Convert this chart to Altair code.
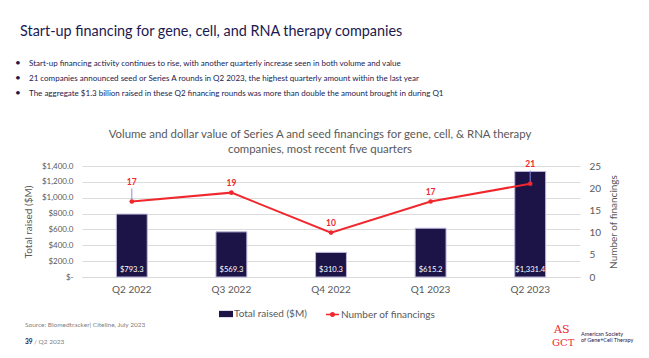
import altair as alt
import pandas as pd

# ---- data ----
quarters = ["Q2 2022", "Q3 2022", "Q4 2022", "Q1 2023", "Q2 2023"]
total_raised = [793.3, 569.3, 310.3, 615.2, 1331.4]
num_financings = [17, 19, 10, 17, 21]
leader_quarters = ["Q2 2022", "Q2 2023"]

slide_title = "Start-up financing for gene, cell, and RNA therapy companies"
bullets = [
    "Start-up financing activity continues to rise, with another quarterly increase seen in both volume and value",
    "21 companies announced seed or Series A rounds in Q2 2023, the highest quarterly amount within the last year",
    "The aggregate $1.3 billion raised in these Q2 financing rounds was more than double the amount brought in during Q1",
]
chart_title = [
    "Volume and dollar value of Series A and seed financings for gene, cell, & RNA therapy",
    "companies, most recent five quarters",
]
source_text = "Source: Biomedtracker| Citeline, July 2023"

df = pd.DataFrame({
    "Quarter": quarters,
    "Total": total_raised,
    "Count": num_financings,
    "BarLabel": ["$" + format(v, ",.1f") for v in total_raised],
    "S1": "Total raised ($M)",
    "S2": "Number of financings",
})

FONT = "Lato"
NAVY = "#1c1446"
RED = "#f0282d"
GRAY = "#595959"
W, H = 498, 111

xaxis = alt.Axis(labelColor=GRAY, labelFontSize=10, labelFont=FONT, title=None,
                 domainColor="#d9d9d9", ticks=False, labelPadding=7, labelAngle=0)
xscale = alt.Scale(paddingInner=0.69, paddingOuter=0.345)
xenc = alt.X("Quarter:N", sort=quarters, title=None, scale=xscale, axis=xaxis)

lscale = alt.Scale(domain=[0, 1400])
laxis = alt.Axis(title="Total raised ($M)", values=list(range(0, 1401, 200)),
                 labelExpr="datum.value == 0 ? '$-' : '$' + format(datum.value, ',.1f')",
                 labelColor=GRAY, labelFontSize=8, labelFont=FONT,
                 labelOverlap=False, labelBound=False,
                 ticks=False, domain=False, labelPadding=9, grid=True,
                 gridColor="#dcdcdc", gridWidth=1.2, titleColor=GRAY, titleFont=FONT,
                 titleFontSize=10, titleFontWeight="normal", titlePadding=8)

rscale = alt.Scale(domain=[0, 25])
raxis = alt.Axis(title="Number of financings", orient="right",
                 values=list(range(0, 26, 5)), labelColor=GRAY,
                 labelOverlap=False, labelBound=False,
                 labelFontSize=10, labelFont=FONT, ticks=False, domain=False,
                 grid=False, labelPadding=9, titleColor=GRAY, titleFont=FONT,
                 titleFontSize=10, titleFontWeight="normal", titlePadding=18,
                 titleAngle=270, titleBaseline="bottom")
yright = alt.Y("Count:Q", title="Number of financings", scale=rscale, axis=raxis)

base = alt.Chart(df)

bars = base.mark_bar(stroke="#bdb6dc", strokeWidth=1).encode(
    x=xenc,
    y=alt.Y("Total:Q", title="Total raised ($M)", scale=lscale, axis=laxis),
    color=alt.Color("S1:N", scale=alt.Scale(domain=["Total raised ($M)"], range=[NAVY]),
                    legend=alt.Legend(title=None, orient="none", legendX=137, legendY=141,
                                      symbolType="M-1,-0.45H1V0.45H-1Z", symbolSize=196,
                                      symbolStrokeWidth=0, labelFont=FONT, labelFontSize=10,
                                      labelColor=GRAY, labelOffset=1, padding=0)),
)

bar_labels = base.mark_text(color="white", font=FONT, fontSize=7.6, baseline="bottom", dy=-3).encode(
    x=xenc,
    y=alt.YDatum(0, title="Total raised ($M)", scale=lscale, axis=laxis),
    text="BarLabel:N",
)

left = alt.layer(bars, bar_labels)

line = base.mark_line(strokeWidth=2).encode(
    x=xenc,
    y=yright,
    stroke=alt.Stroke("S2:N", scale=alt.Scale(domain=["Number of financings"], range=[RED]),
                      legend=alt.Legend(title=None, orient="none", legendX=243, legendY=141,
                                        symbolType="M-1,0H1M-0.28,0A0.28,0.28,0,1,1,0.28,0A0.28,0.28,0,1,1,-0.28,0Z",
                                        symbolSize=170, symbolStrokeWidth=1.5,
                                        symbolFillColor=RED, labelFont=FONT, labelFontSize=10,
                                        labelColor=GRAY, labelOffset=1, padding=0)),
)
pts = base.mark_point(filled=True, size=22, color=RED, opacity=1).encode(x=xenc, y=yright)

leaders = base.transform_filter(
    alt.FieldOneOfPredicate(field="Quarter", oneOf=leader_quarters)
).mark_rule(color="#8c86e6", strokeWidth=1, y2Offset=-13).encode(
    x=xenc, y=yright, y2=alt.Y2("Count"))

lab_normal = base.transform_filter(
    ~alt.FieldOneOfPredicate(field="Quarter", oneOf=leader_quarters)
).mark_text(color=RED, font=FONT, fontSize=8.5, fontWeight="bold", baseline="bottom", dy=-5).encode(
    x=xenc, y=yright, text="Count:Q")
lab_leader = base.transform_filter(
    alt.FieldOneOfPredicate(field="Quarter", oneOf=leader_quarters)
).mark_text(color=RED, font=FONT, fontSize=8.5, fontWeight="bold", baseline="bottom", dy=-15).encode(
    x=xenc, y=yright, text="Count:Q")

right = alt.layer(line, leaders, pts, lab_normal, lab_leader)


def note(text, x, y, size, color, weight="normal", align="left", font=FONT):
    return alt.Chart(pd.DataFrame({"t": [text]})).mark_text(
        align=align, baseline="alphabetic", font=font, fontSize=size, color=color,
        fontWeight=weight).encode(text="t:N", x=alt.value(x), y=alt.value(y))


OX, OY = 82, 166  # plot origin on the page
notes = [note(slide_title, 20 - OX, 36 - OY, 14.4, "#1b1a4f")]
for i, b in enumerate(bullets):
    yy = 66 + 15 * i - OY
    notes.append(note("•", 15 - OX, yy, 10, "#1b1a4f"))
    notes.append(note(b, 29 - OX, yy, 8.0, "#1b1a4f"))
for i, t in enumerate(chart_title):
    notes.append(note(t, 320 - OX, 138 + 15 * i - OY, 11.4, GRAY, align="center"))
notes.append(note(source_text, 25 - OX, 327 - OY, 6.5, "#7f7f7f"))
notes.append(note("39", 25 - OX, 344 - OY, 6.5, "#1b1a4f", weight="bold"))
notes.append(note("/ Q2 2023", 34 - OX, 344 - OY, 6.5, "#7f7f7f"))
notes.append(note("AS", 554 - OX, 333 - OY, 11, RED, font="DejaVu Serif"))
notes.append(note("GCT", 552 - OX, 346 - OY, 10, RED, font="DejaVu Serif"))
notes.append(note("American Society", 581 - OX, 336 - OY, 5.5, "#1b1a4f"))
notes.append(note("of Gene+Cell Therapy", 581 - OX, 342 - OY, 5.5, "#1b1a4f"))

chart = alt.layer(left, right, *notes).resolve_scale(y="independent").properties(
    width=W, height=H,
    padding={"left": OX - 8, "top": OY - 8, "right": 633 - (OX - 8) - W, "bottom": 342 - (OY - 8) - H},
    autosize=alt.AutoSizeParams(type="none"),
    background="white",
).configure_view(stroke=None)

chart.save("out.html", embed_options={"renderer": "svg", "actions": False})
